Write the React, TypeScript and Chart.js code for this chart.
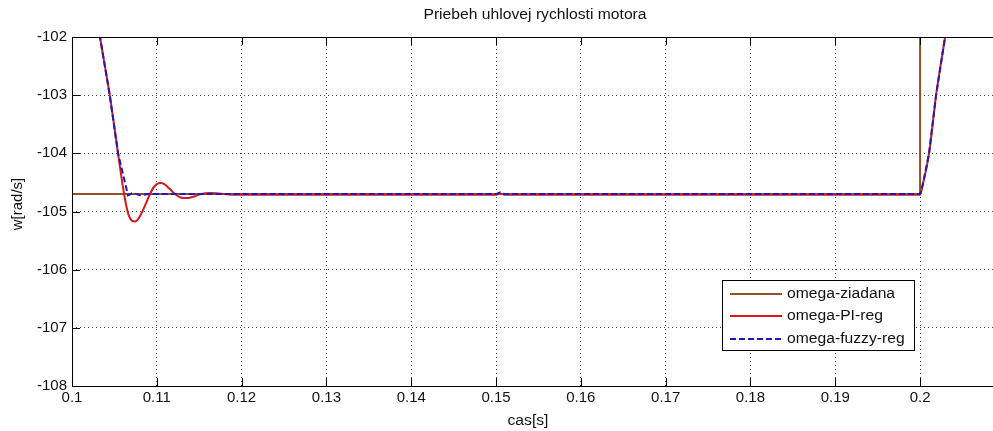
import React, { useEffect, useRef } from "react";
import { Chart, registerables } from "chart.js";

Chart.register(...registerables);

const chartTitle = "Priebeh uhlovej rychlosti motora";
const xLabel = "cas[s]";
const yLabel = "w[rad/s]";
const seriesNames = ["omega-ziadana", "omega-PI-reg", "omega-fuzzy-reg"];

const xTicks = [0.1, 0.11, 0.12, 0.13, 0.14, 0.15, 0.16, 0.17, 0.18, 0.19, 0.2];
const yTicks = [-108, -107, -106, -105, -104, -103, -102];

// omega-ziadana (reference)
const refT = [0.1, 0.2, 0.2, 0.2086];
const refV = [-104.7, -104.7, -99, -99];

// omega-PI-reg
const piT = [
  0.1, 0.1033, 0.10445, 0.10543, 0.1058, 0.1061, 0.1064, 0.1067, 0.1071, 0.10743,
  0.1078, 0.1082, 0.1086, 0.1092, 0.1097, 0.11038, 0.1109, 0.1115, 0.11215, 0.1128,
  0.11352, 0.1142, 0.1152, 0.11627, 0.1173, 0.119, 0.122, 0.15, 0.1505, 0.151,
  0.2, 0.2003, 0.20106, 0.20189, 0.20295, 0.206,
];
const piV = [
  -98.9, -102, -103, -104, -104.38, -104.66, -104.9, -105.07, -105.16, -105.17,
  -105.13, -105.03, -104.9, -104.7, -104.57, -104.51, -104.53, -104.61, -104.7, -104.76,
  -104.77, -104.75, -104.7, -104.68, -104.69, -104.71, -104.71, -104.71, -104.69, -104.71,
  -104.71, -104.55, -104, -103, -102, -99,
];

// omega-fuzzy-reg
const fuzT = [
  0.1, 0.1033, 0.10445, 0.10543, 0.1066, 0.1072, 0.108, 0.109, 0.12, 0.15,
  0.1505, 0.151, 0.2, 0.2003, 0.20106, 0.20189, 0.20295, 0.206,
];
const fuzV = [
  -98.9, -102, -103, -104, -104.72, -104.68, -104.72, -104.7, -104.7, -104.7,
  -104.67, -104.7, -104.7, -104.55, -104, -103, -102, -99,
];

const seriesColors = ["rgb(150,80,35)", "rgb(215,25,25)", "rgb(25,25,190)"];

const toPts = (t: number[], v: number[]) => t.map((x, i) => ({ x, y: v[i] }));

const FONT = '"Liberation Sans", Arial, sans-serif';

const decorPlugin = {
  id: "matlabDecor",
  afterDraw(chart: any) {
    const ctx = chart.ctx as CanvasRenderingContext2D;
    const { left, right, top, bottom } = chart.chartArea;
    const xs = chart.scales.x;
    const ys = chart.scales.y;
    ctx.save();
    // inward ticks
    ctx.strokeStyle = "#000";
    ctx.lineWidth = 1;
    ctx.beginPath();
    xTicks.forEach((v) => {
      const px = Math.round(xs.getPixelForValue(v)) + 0.5;
      ctx.moveTo(px, bottom);
      ctx.lineTo(px, bottom - 8);
      ctx.moveTo(px, top);
      ctx.lineTo(px, top + 8);
    });
    yTicks.forEach((v) => {
      const py = Math.round(ys.getPixelForValue(v)) + 0.5;
      ctx.moveTo(left, py);
      ctx.lineTo(left + 8, py);
    });
    ctx.stroke();
    // box
    ctx.beginPath();
    const l = Math.round(left) + 0.5;
    const b = Math.round(bottom) + 0.5;
    const t = Math.round(top) + 0.5;
    ctx.moveTo(right, t);
    ctx.lineTo(l, t);
    ctx.lineTo(l, b);
    ctx.lineTo(right, b);
    ctx.stroke();

    // texts
    ctx.fillStyle = "#111";
    ctx.font = `14px ${FONT}`;
    ctx.textAlign = "center";
    ctx.textBaseline = "middle";
    const drawStretched = (txt: string, x: number, y: number, align: CanvasTextAlign) => {
      ctx.save();
      ctx.translate(x, y);
      ctx.scale(1.12, 1);
      ctx.textAlign = align;
      ctx.fillText(txt, 0, 0);
      ctx.restore();
    };
    drawStretched(chartTitle, 535, 15, "center");
    drawStretched(xLabel, 528, 421, "center");
    ctx.save();
    ctx.translate(18, 204);
    ctx.rotate(-Math.PI / 2);
    ctx.font = `15px ${FONT}`;
    ctx.textAlign = "center";
    ctx.fillText(yLabel, 0, 0);
    ctx.restore();

    // legend
    const lx = 722, ly = 280, lw = 192, lh = 70;
    ctx.fillStyle = "#fff";
    ctx.fillRect(lx, ly, lw, lh);
    ctx.strokeStyle = "#000";
    ctx.strokeRect(lx + 0.5, ly + 0.5, lw, lh);
    const rows = [294, 316, 339];
    seriesNames.forEach((name, i) => {
      ctx.save();
      ctx.strokeStyle = seriesColors[i];
      ctx.lineWidth = 2;
      if (i === 2) ctx.setLineDash([6, 3]);
      ctx.beginPath();
      ctx.moveTo(730, rows[i]);
      ctx.lineTo(782, rows[i]);
      ctx.stroke();
      ctx.restore();
      ctx.fillStyle = "#111";
      ctx.font = `14px ${FONT}`;
      drawStretched(name, 787, rows[i], "left");
    });
    ctx.restore();
  },
};

export default function App() {
  const ref = useRef<HTMLCanvasElement | null>(null);
  useEffect(() => {
    document.body.style.margin = "0";
    const canvas = ref.current;
    if (!canvas) return;
    const chart = new Chart(canvas, {
      type: "line",
      data: {
        datasets: [
          {
            label: seriesNames[0],
            data: toPts(refT, refV),
            borderColor: seriesColors[0],
            borderWidth: 2,
            pointRadius: 0,
            tension: 0,
            order: 2,
          },
          {
            label: seriesNames[1],
            data: toPts(piT, piV),
            borderColor: seriesColors[1],
            borderWidth: 2,
            pointRadius: 0,
            cubicInterpolationMode: "monotone",
            order: 1,
          },
          {
            label: seriesNames[2],
            data: toPts(fuzT, fuzV),
            borderColor: seriesColors[2],
            borderWidth: 2,
            borderDash: [6, 3],
            pointRadius: 0,
            tension: 0,
            order: 0,
          },
        ],
      },
      options: {
        responsive: false,
        animation: false,
        devicePixelRatio: 1,
        parsing: false,
        layout: { padding: { top: 37, left: 0, right: 0, bottom: 0 } },
        plugins: {
          legend: { display: false },
          title: { display: false },
          tooltip: { enabled: false },
        },
        scales: {
          x: {
            type: "linear",
            min: 0.1,
            max: 0.2086,
            afterBuildTicks: (scale: any) => {
              scale.ticks = xTicks.map((v) => ({ value: v }));
            },
            afterFit: (scale: any) => {
              scale.height = 45;
            },
            ticks: {
              autoSkip: false,
              maxRotation: 0,
              padding: 3,
              color: "#111",
              font: { family: FONT, size: 15 },
              callback: (v: any) => String(+Number(v).toFixed(2)),
            },
            grid: { color: "#444", lineWidth: 1, drawTicks: false },
            border: { display: false, dash: [1, 3] },
          },
          y: {
            type: "linear",
            min: -108,
            max: -102,
            afterBuildTicks: (scale: any) => {
              scale.ticks = yTicks.map((v) => ({ value: v }));
            },
            afterFit: (scale: any) => {
              scale.width = 72;
            },
            ticks: {
              padding: 5,
              color: "#111",
              font: { family: FONT, size: 15 },
              callback: (v: any) => String(v),
            },
            grid: { color: "#444", lineWidth: 1, drawTicks: false },
            border: { display: false, dash: [1, 3] },
          },
        },
      },
      plugins: [decorPlugin],
    } as any);
    return () => chart.destroy();
  }, []);
  return (
    <div style={{ width: 993, height: 431, background: "#fff" }}>
      <canvas ref={ref} width={993} height={431} style={{ display: "block" }} />
    </div>
  );
}
